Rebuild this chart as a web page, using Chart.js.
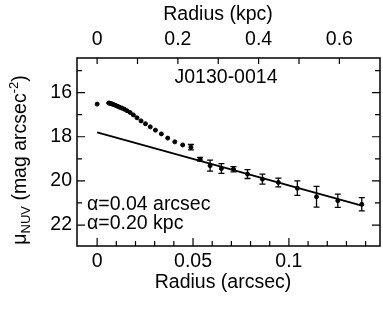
<!DOCTYPE html>
<html lang="en">
<head>
<meta charset="UTF-8">
<title>J0130-0014 NUV profile</title>
<script src="https://cdn.jsdelivr.net/npm/chart.js"></script>
<style>
  html, body { margin: 0; padding: 0; background: #fff; }
  #wrap { width: 383px; height: 313px; }
</style>
</head>
<body>
<div id="wrap"><canvas id="profile" width="383" height="313"></canvas></div>
<script>
// Surface brightness profile
const radiusArcsec = [0, 0.0060, 0.0066, 0.0073, 0.0080, 0.0088, 0.0097, 0.0107, 0.0117, 0.0129,
  0.0142, 0.0156, 0.0172, 0.0189, 0.0208, 0.0229, 0.0252, 0.0277, 0.0304, 0.0335,
  0.0368, 0.0405, 0.0446, 0.0489, 0.0537, 0.0589, 0.0648, 0.0711, 0.0784, 0.0862,
  0.0945, 0.1044, 0.1144, 0.1255, 0.1380];
const muNUV = [16.52, 16.47, 16.48, 16.50, 16.52, 16.55, 16.58, 16.62, 16.66, 16.70,
  16.75, 16.82, 16.90, 17.01, 17.14, 17.28, 17.41, 17.55, 17.70, 17.87,
  18.06, 18.23, 18.37, 18.47, 19.02, 19.31, 19.44, 19.47, 19.69, 19.92,
  20.07, 20.33, 20.72, 20.90, 21.06];
const muErr = [0.02, 0.02, 0.02, 0.02, 0.02, 0.02, 0.02, 0.02, 0.02, 0.02,
  0.02, 0.02, 0.02, 0.02, 0.02, 0.03, 0.03, 0.03, 0.03, 0.04,
  0.04, 0.05, 0.06, 0.12, 0.08, 0.25, 0.22, 0.12, 0.20, 0.23,
  0.20, 0.33, 0.47, 0.30, 0.30];

// exponential disk fit
const fitR = [0, 0.138];
const fitMu = [17.80, 21.12];

const xTicks = [0, 0.05, 0.1];
const kpcTicks = [0, 0.2, 0.4, 0.6];
const yTicks = [16, 18, 20, 22];
const xMinor = [0, 0.01, 0.02, 0.03, 0.04, 0.05, 0.06, 0.07, 0.08, 0.09, 0.1, 0.11, 0.12, 0.13, 0.14];
const kpcMinor = [0, 0.1, 0.2, 0.3, 0.4, 0.5, 0.6];
const yMinor = [15, 16, 17, 18, 19, 20, 21, 22];
const kpcPerArcsec = 4.75;

const X_MIN = -0.0105, X_MAX = 0.1475;
const FONT = '"Liberation Sans", Arial, Helvetica, sans-serif';
const FS = 19.5;

const pts = radiusArcsec.map((r, i) => ({ x: r, y: muNUV[i] }));
const fit = fitR.map((r, i) => ({ x: r, y: fitMu[i] }));

const decor = {
  id: 'decor',
  afterDatasetsDraw(chart) {
    const { ctx, chartArea: a, scales } = chart;
    const sx = scales.x, sx2 = scales.x2, sy = scales.y;
    ctx.save();
    ctx.strokeStyle = '#000';
    ctx.fillStyle = '#000';

    // error bars
    ctx.lineWidth = 1.3;
    radiusArcsec.forEach((r, i) => {
      const px = sx.getPixelForValue(r);
      const y1 = sy.getPixelForValue(muNUV[i] - muErr[i]);
      const y2 = sy.getPixelForValue(muNUV[i] + muErr[i]);
      if (Math.abs(y2 - y1) < 3) return;
      ctx.beginPath();
      ctx.moveTo(px, y1); ctx.lineTo(px, y2);
      ctx.moveTo(px - 3, y1); ctx.lineTo(px + 3, y1);
      ctx.moveTo(px - 3, y2); ctx.lineTo(px + 3, y2);
      ctx.stroke();
    });

    // frame
    ctx.lineWidth = 1.5;
    ctx.strokeRect(a.left, a.top, a.right - a.left, a.bottom - a.top);

    // inward ticks
    ctx.lineWidth = 1.2;
    ctx.beginPath();
    xMinor.forEach(v => {
      const px = sx.getPixelForValue(v);
      const len = xTicks.includes(v) ? 8 : 5;
      ctx.moveTo(px, a.bottom); ctx.lineTo(px, a.bottom - len);
    });
    kpcMinor.forEach(v => {
      const px = sx2.getPixelForValue(v);
      ctx.moveTo(px, a.top); ctx.lineTo(px, a.top + 6);
    });
    yMinor.forEach(v => {
      const py = sy.getPixelForValue(v);
      const len = yTicks.includes(v) ? 8 : 5;
      ctx.moveTo(a.left, py); ctx.lineTo(a.left + len, py);
      ctx.moveTo(a.right, py); ctx.lineTo(a.right - len, py);
    });
    ctx.stroke();

    // titles and annotations
    ctx.font = FS + 'px ' + FONT;
    ctx.textBaseline = 'middle';
    ctx.textAlign = 'center';
    ctx.fillText('Radius (kpc)', 218, 15);
    ctx.fillText('Radius (arcsec)', 223, 283);
    ctx.fillText('J0130-0014', 226, 78);
    ctx.textAlign = 'left';
    ctx.fillText('\u03b1=0.04 arcsec', 87, 205);
    ctx.fillText('\u03b1=0.20 kpc', 87, 224);

    // y axis title with sub/superscript
    const parts = [
      { t: '\u03bc', s: FS, dy: 0 },
      { t: 'NUV', s: 13, dy: 5 },
      { t: ' (mag arcsec', s: FS, dy: 0 },
      { t: '-2', s: 13, dy: -7 },
      { t: ')', s: FS, dy: 0 }
    ];
    let total = 0;
    parts.forEach(p => { ctx.font = p.s + 'px ' + FONT; p.w = ctx.measureText(p.t).width; total += p.w; });
    ctx.translate(21, 160);
    ctx.rotate(-Math.PI / 2);
    ctx.textAlign = 'left';
    let cx = -total / 2;
    parts.forEach(p => {
      ctx.font = p.s + 'px ' + FONT;
      ctx.fillText(p.t, cx, p.dy);
      cx += p.w;
    });
    ctx.restore();
  }
};

const tickFont = { family: FONT, size: FS };
const noGrid = { display: false, drawTicks: false };

new Chart(document.getElementById('profile'), {
  type: 'scatter',
  data: {
    datasets: [
      {
        label: 'profile',
        data: pts,
        backgroundColor: '#000',
        borderColor: '#000',
        pointRadius: 2,
        pointHoverRadius: 2,
        showLine: false
      },
      {
        label: 'fit',
        data: fit,
        showLine: true,
        borderColor: '#000',
        borderWidth: 2,
        pointRadius: 0
      }
    ]
  },
  options: {
    responsive: false,
    animation: false,
    events: [],
    layout: { padding: { left: 0, right: 3, top: 0, bottom: 0 } },
    plugins: { legend: { display: false }, tooltip: { enabled: false } },
    scales: {
      x: {
        type: 'linear', position: 'bottom', min: X_MIN, max: X_MAX,
        grid: noGrid, border: { display: false },
        afterBuildTicks: s => { s.ticks = xTicks.map(v => ({ value: v })); },
        afterFit: s => { s.height = 67; },
        ticks: { color: '#000', font: tickFont, padding: 4, maxRotation: 0, callback: v => String(v) }
      },
      x2: {
        type: 'linear', axis: 'x', position: 'top',
        min: X_MIN * kpcPerArcsec, max: X_MAX * kpcPerArcsec,
        grid: noGrid, border: { display: false },
        afterBuildTicks: s => { s.ticks = kpcTicks.map(v => ({ value: v })); },
        afterFit: s => { s.height = 58; },
        ticks: { color: '#000', font: tickFont, padding: 7, maxRotation: 0, callback: v => String(v) }
      },
      y: {
        type: 'linear', reverse: true, min: 14.43, max: 22.95,
        grid: noGrid, border: { display: false },
        afterBuildTicks: s => { s.ticks = yTicks.map(v => ({ value: v })); },
        afterFit: s => { s.width = 77; },
        ticks: { color: '#000', font: tickFont, padding: 5, callback: v => String(v) }
      }
    }
  },
  plugins: [decor]
});
</script>
</body>
</html>
